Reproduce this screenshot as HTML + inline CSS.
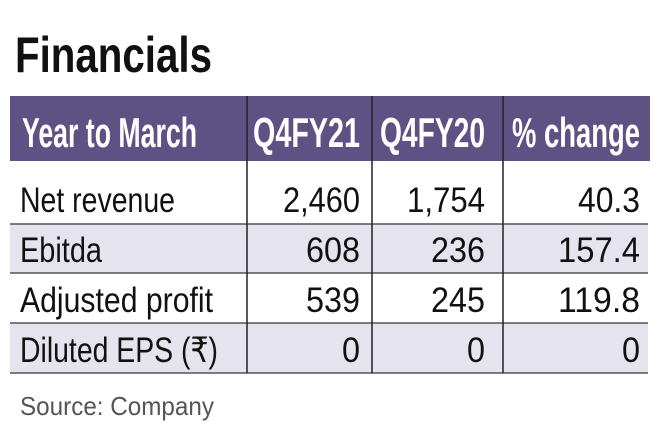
<!DOCTYPE html>
<html><head><meta charset="utf-8"><style>
html,body{margin:0;padding:0;background:#fff;width:660px;height:440px;overflow:hidden}
text{font-family:"Liberation Sans","DejaVu Sans",sans-serif}
</style></head><body>
<svg width="660" height="440" viewBox="0 0 660 440" xmlns="http://www.w3.org/2000/svg">
<rect width="660" height="440" fill="#fff"/>
<text x="15" y="72" font-size="50" font-weight="bold" fill="#111" textLength="197" lengthAdjust="spacingAndGlyphs">Financials</text>
<rect x="10" y="96" width="640" height="65" fill="#5d5283"/>
<rect x="10" y="224" width="638" height="49" fill="#e4e3ee"/>
<rect x="10" y="323" width="638" height="50" fill="#e4e3ee"/>
<g stroke="#555" stroke-width="1.5">
<line x1="10" y1="224" x2="648" y2="224"/>
<line x1="10" y1="273" x2="648" y2="273"/>
<line x1="10" y1="323" x2="648" y2="323"/>
<line x1="10" y1="373" x2="648" y2="373"/>
</g>
<g stroke="#222" stroke-width="1.5">
<line x1="247" y1="96" x2="247" y2="373"/>
<line x1="372" y1="96" x2="372" y2="373"/>
<line x1="503" y1="96" x2="503" y2="373"/>
</g>
<g fill="#fff" font-size="42" font-weight="bold">
<text x="22" y="147" textLength="175" lengthAdjust="spacingAndGlyphs">Year to March</text>
<text x="253" y="147" textLength="107" lengthAdjust="spacingAndGlyphs">Q4FY21</text>
<text x="380" y="147" textLength="105" lengthAdjust="spacingAndGlyphs">Q4FY20</text>
<text x="512" y="147" textLength="128" lengthAdjust="spacingAndGlyphs">% change</text>
</g>
<g fill="#111" font-size="35">
<text x="20" y="212" textLength="155" lengthAdjust="spacingAndGlyphs">Net revenue</text>
<text x="20" y="262" textLength="82" lengthAdjust="spacingAndGlyphs">Ebitda</text>
<text x="20" y="312" textLength="193" lengthAdjust="spacingAndGlyphs">Adjusted profit</text>
<text x="20" y="362" textLength="198" lengthAdjust="spacingAndGlyphs">Diluted EPS (₹)</text>
</g>
<g fill="#111" font-size="35" lengthAdjust="spacingAndGlyphs">
<text x="283" y="212" textLength="77" lengthAdjust="spacingAndGlyphs">2,460</text>
<text x="407" y="212" textLength="78" lengthAdjust="spacingAndGlyphs">1,754</text>
<text x="578" y="212" textLength="62" lengthAdjust="spacingAndGlyphs">40.3</text>
<text x="306" y="262" textLength="54" lengthAdjust="spacingAndGlyphs">608</text>
<text x="431" y="262" textLength="54" lengthAdjust="spacingAndGlyphs">236</text>
<text x="558" y="262" textLength="82" lengthAdjust="spacingAndGlyphs">157.4</text>
<text x="306" y="312" textLength="54" lengthAdjust="spacingAndGlyphs">539</text>
<text x="431" y="312" textLength="54" lengthAdjust="spacingAndGlyphs">245</text>
<text x="558" y="312" textLength="82" lengthAdjust="spacingAndGlyphs">119.8</text>
<text x="342" y="362" textLength="18" lengthAdjust="spacingAndGlyphs">0</text>
<text x="467" y="362" textLength="18" lengthAdjust="spacingAndGlyphs">0</text>
<text x="622" y="362" textLength="18" lengthAdjust="spacingAndGlyphs">0</text>
</g>
<text x="20" y="415" font-size="26" fill="#555" textLength="194" lengthAdjust="spacingAndGlyphs">Source: Company</text>
</svg>
</body></html>
